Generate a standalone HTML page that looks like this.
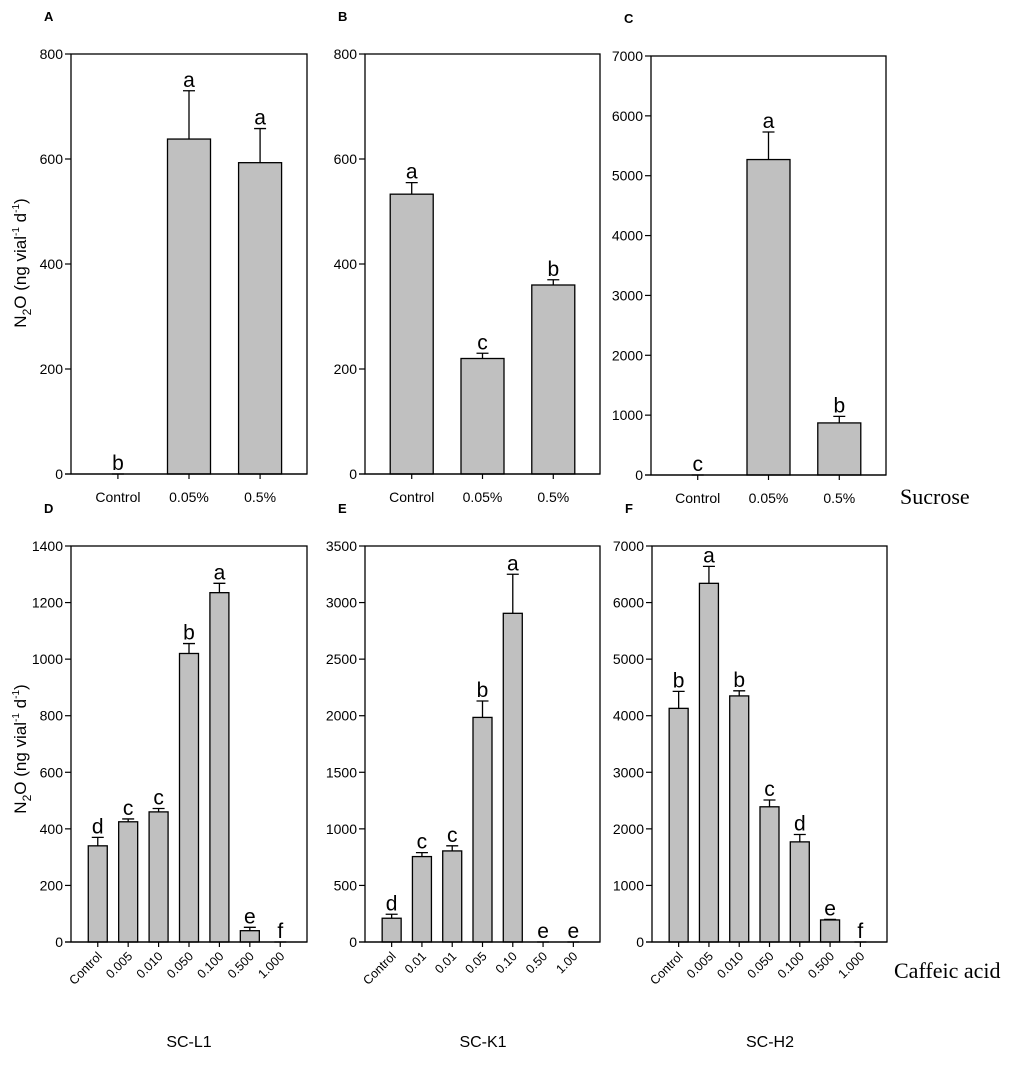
<!DOCTYPE html>
<html><head><meta charset="utf-8"><style>
body{margin:0;background:#fff}
svg{display:block;font-family:"Liberation Sans",Arial,sans-serif}
</style></head><body>
<svg id="fig" width="1021" height="1073" viewBox="0 0 1021 1073" xmlns="http://www.w3.org/2000/svg"></svg>
<script>
const catsSucrose = ["Control","0.05%","0.5%"];
const catsD = ["Control","0.005","0.010","0.050","0.100","0.500","1.000"];
const catsE = ["Control","0.01","0.01","0.05","0.10","0.50","1.00"];
const catsF = ["Control","0.005","0.010","0.050","0.100","0.500","1.000"];
const valsA = [0,638,593];   const errA = [0,92,65];   const letA = ["b","a","a"];
const valsB = [533,220,360]; const errB = [22,10,10];  const letB = ["a","c","b"];
const valsC = [0,5270,870];  const errC = [0,460,110]; const letC = ["c","a","b"];
const valsD = [340,425,460,1020,1235,40,0]; const errD = [30,10,12,35,33,12,0]; const letD = ["d","c","c","b","a","e","f"];
const valsE = [210,755,805,1985,2905,0,0];  const errE = [35,35,45,145,345,0,0]; const letE = ["d","c","c","b","a","e","e"];
const valsF = [4130,6340,4350,2390,1770,390,0]; const errF = [300,300,90,120,130,10,0]; const letF = ["b","a","b","c","d","e","f"];
const ticksA = [0,200,400,600,800];
const ticksC = [0,1000,2000,3000,4000,5000,6000,7000];
const ticksD = [0,200,400,600,800,1000,1200,1400];
const ticksE = [0,500,1000,1500,2000,2500,3000,3500];

const svg = document.getElementById('fig');
const NS = "http://www.w3.org/2000/svg";
function mk(tag, attrs, parent, text){
  const e = document.createElementNS(NS, tag);
  for (const k in attrs) e.setAttribute(k, attrs[k]);
  if (text !== undefined) e.textContent = text;
  (parent||svg).appendChild(e);
  return e;
}

function panel(p){
  const g = mk('g', {});
  
  
  const y = v => p.bottom - (v / p.max) * (p.bottom - p.top);
  const n = p.cats.length;
  const step = (p.x1 - p.x0) / (n - 1 + 2 * p.off);
  const x = i => p.x0 + step * (p.off + i);
  const pl = mk('text', {x:p.x0 - 27, y:p.top - 33, 'font-size':13, 'font-weight':'bold'}, g, p.id);
  
  
  p.vals.forEach((v, i) => {
    const cx = x(i), bw = p.bw;
    if (v > 0) {
      const r = mk('rect', {x:cx - bw/2, y:y(v), width:bw, height:p.bottom - y(v), fill:'#c0c0c0', stroke:'#000', 'stroke-width':1.3}, g);
      
      
    }
    const top = y(v + p.err[i]);
    const eb = mk('path', {d:`M${cx},${y(v)}V${top}M${cx - p.cap},${top}H${cx + p.cap}`, stroke:'#000', 'stroke-width':1.3, fill:'none'}, g);
    
    
    const lt = mk('text', {x:cx, y:top - 4, 'font-size':p.lfs, 'text-anchor':'middle'}, g, p.lets[i]);
    
    
    mk('line', {x1:cx, x2:cx, y1:p.bottom, y2:p.bottom + 5, stroke:'#000', 'stroke-width':1.2}, g);
    let xl;
    if (p.rot) {
      xl = mk('text', {x:cx + 5, y:p.bottom + 15, 'font-size':12.5, 'text-anchor':'end', transform:`rotate(-45 ${cx + 5} ${p.bottom + 15})`}, g, p.cats[i]);
    } else {
      xl = mk('text', {x:cx, y:p.bottom + 28, 'font-size':14, 'text-anchor':'middle'}, g, p.cats[i]);
    }
    
    
  });
  mk('rect', {x:p.x0, y:p.top, width:p.x1 - p.x0, height:p.bottom - p.top, fill:'none', stroke:'#000', 'stroke-width':1.3}, g);
  mk('line', {x1:p.x0 - 6, x2:p.x1, y1:p.bottom, y2:p.bottom, stroke:'#000', 'stroke-width':1.3}, g);
  p.ticks.forEach(t => {
    mk('line', {x1:p.x0 - 6, x2:p.x0, y1:y(t), y2:y(t), stroke:'#000', 'stroke-width':1.2}, g);
    const tl = mk('text', {x:p.x0 - 8, y:y(t) + 5, 'font-size':14, 'text-anchor':'end'}, g, t);
    
    
  });
}

const topS = {top:54, bottom:474};
const topC = {top:546, bottom:942};
panel({id:'A', x0:71, x1:307, ...topS, max:800, ticks:ticksA, cats:catsSucrose, vals:valsA, err:errA, lets:letA, off:0.66, bw:43, cap:6, lfs:21});
panel({id:'B', x0:365, x1:600, ...topS, max:800, ticks:ticksA, cats:catsSucrose, vals:valsB, err:errB, lets:letB, off:0.66, bw:43, cap:6, lfs:21});
panel({id:'C', x0:651, x1:886, top:56, bottom:475, max:7000, ticks:ticksC, cats:catsSucrose, vals:valsC, err:errC, lets:letC, off:0.66, bw:43, cap:6, lfs:21});
panel({id:'D', x0:71, x1:307, ...topC, max:1400, ticks:ticksD, cats:catsD, vals:valsD, err:errD, lets:letD, off:0.88, bw:19, cap:6, lfs:21, rot:true});
panel({id:'E', x0:365, x1:600, ...topC, max:3500, ticks:ticksE, cats:catsE, vals:valsE, err:errE, lets:letE, off:0.88, bw:19, cap:6, lfs:21, rot:true});
panel({id:'F', x0:652, x1:887, ...topC, max:7000, ticks:ticksC, cats:catsF, vals:valsF, err:errF, lets:letF, off:0.88, bw:19, cap:6, lfs:21, rot:true});

function ytitle(cy){
  const t = mk('text', {transform:`translate(26 ${cy}) rotate(-90)`, 'font-size':17, 'text-anchor':'middle'});
  
  
  t.innerHTML = 'N<tspan font-size="12" dy="5">2</tspan><tspan dy="-5">O (ng vial</tspan><tspan font-size="10" dy="-7">-1</tspan><tspan dy="7"> d</tspan><tspan font-size="10" dy="-7">-1</tspan><tspan dy="7">)</tspan>';
}
ytitle(263); ytitle(749);

function label(x, y, txt, name, fs, fam){
  const t = mk('text', {x:x, y:y, 'font-size':fs, 'font-family':fam||'"Liberation Sans",Arial,sans-serif'}, svg, txt);
  
  
  return t;
}
label(900, 504, 'Sucrose', 'sucrose-axis-title', 22, '"Liberation Serif",serif');
label(894, 978, 'Caffeic acid', 'caffeic-acid-axis-title', 22, '"Liberation Serif",serif');
const g1 = label(189, 1047, 'SC-L1', 'group-label-sc-l1', 16); g1.setAttribute('text-anchor','middle');
const g2 = label(483, 1047, 'SC-K1', 'group-label-sc-k1', 16); g2.setAttribute('text-anchor','middle');
const g3 = label(770, 1047, 'SC-H2', 'group-label-sc-h2', 16); g3.setAttribute('text-anchor','middle');
</script>
</body></html>
